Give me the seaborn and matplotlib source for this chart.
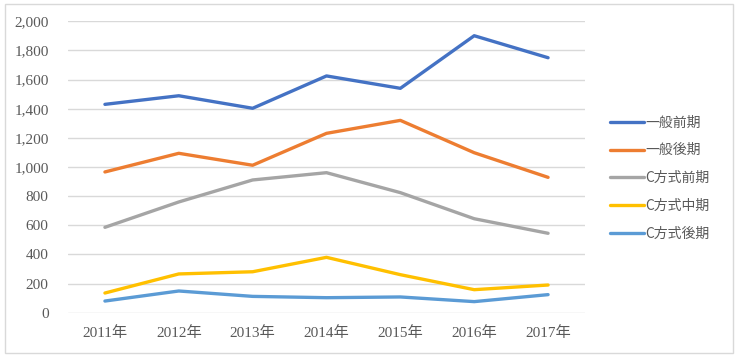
import matplotlib
matplotlib.use("Agg")
import matplotlib.pyplot as plt
import pandas as pd
import seaborn as sns
from matplotlib.patches import Rectangle

years = ["2011年", "2012年", "2013年", "2014年", "2015年", "2016年", "2017年"]
ippan_zenki = [1430, 1489, 1403, 1625, 1540, 1901, 1750]
ippan_kouki = [966, 1094, 1012, 1231, 1320, 1098, 929]
c_zenki = [586, 760, 911, 961, 824, 645, 545]
c_chuki = [135, 266, 281, 380, 261, 158, 190]
c_kouki = [80, 149, 112, 103, 108, 76, 124]

series_names = ["一般前期", "一般後期", "C方式前期", "C方式中期", "C方式後期"]
colors = ["#4472C4", "#ED7D31", "#A5A5A5", "#FFC000", "#5B9BD5"]

rows = []
for name, vals in zip(series_names, [ippan_zenki, ippan_kouki, c_zenki, c_chuki, c_kouki]):
    for i, v in enumerate(vals):
        rows.append({"year": i, "value": v, "series": name})
df = pd.DataFrame(rows)

sns.set_style("white")
plt.rcParams["font.family"] = ["Liberation Serif", "Noto Sans CJK JP"]

fig = plt.figure(figsize=(7.38, 3.59), dpi=100)
ax = fig.add_axes([68 / 738, 1 - 312.7 / 359, 517 / 738, 291.4 / 359])

sns.lineplot(data=df, x="year", y="value", hue="series", hue_order=series_names,
             palette=colors, linewidth=2.4, ax=ax, legend=False)

ax.set_xlim(-0.5, 6.5)
ax.set_ylim(0, 2000)
ax.set_yticks(range(0, 2001, 200))
ax.set_yticklabels([f"{v:,}" for v in range(0, 2001, 200)])
ax.set_xticks(range(len(years)))
ax.set_xticklabels(years)
ax.grid(axis="y", color="#D9D9D9", linewidth=1)
ax.set_axisbelow(True)
for s in ax.spines.values():
    s.set_visible(False)
ax.tick_params(axis="both", length=0, labelsize=11, colors="#595959")
ax.tick_params(axis="y", pad=14)
ax.tick_params(axis="x", pad=10)
ax.set_xlabel("")
ax.set_ylabel("")

handles = [plt.Line2D([], [], color=c, linewidth=2.4) for c in colors]
leg = fig.legend(handles, series_names, loc="upper left", bbox_to_anchor=(597 / 738, 1 - 103 / 359),
                 frameon=False, handlelength=2.45, handletextpad=0.15, labelspacing=1.0,
                 prop={"family": ["Noto Sans CJK JP"], "size": 10})
for t in leg.get_texts():
    t.set_color("#595959")

fig.patches.append(Rectangle((5 / 738, 6 / 359), 728 / 738, 349 / 359, transform=fig.transFigure,
                             fill=False, edgecolor="#D9D9D9", linewidth=1))

fig.savefig("out.png", dpi=100)
